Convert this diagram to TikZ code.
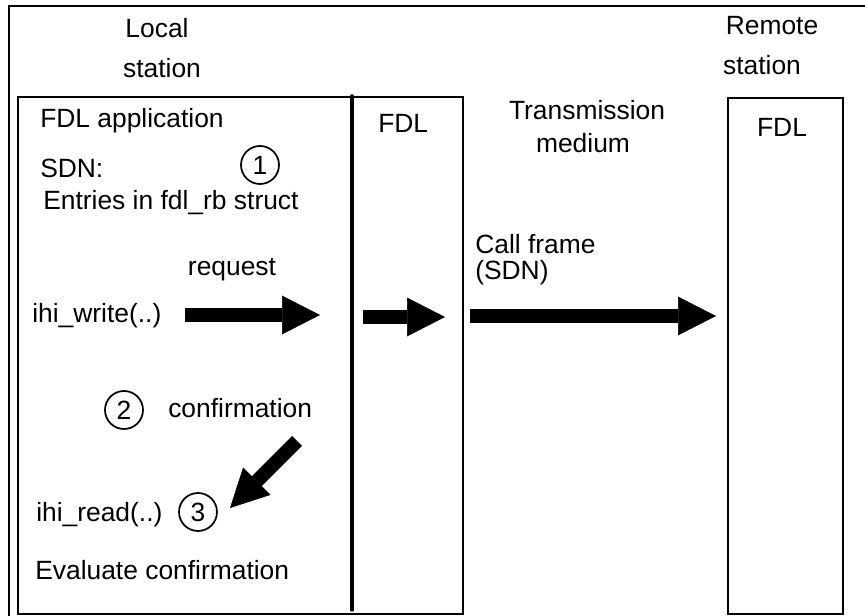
\documentclass[tikz,border=0pt]{standalone}
\usepackage{fontspec}
\setmainfont{Liberation Sans}
\usetikzlibrary{arrows.meta}
\tikzset{every node/.style={font=\fontsize{19.8}{24}\selectfont, inner sep=0pt},
  box/.style={draw, line width=1.5pt},
  num/.style={circle, draw, line width=1.3pt, minimum size=28.5pt},
  big_arrow/.style={line width=10.5pt, -{Triangle[length=28.5pt, width=29pt, line width=0.4pt]}}}

\begin{document}
\begin{tikzpicture}[x=0.75pt, y=-0.75pt]
            \useasboundingbox (0,0) rectangle (865,616);
            \draw[line width=1.5pt] (9,620) -- (9,6) -- (870,6);
            \node[box, minimum width=333.75pt, minimum height=387.75pt] (local_station) at (240.5,355.5) {};
            \node[box, minimum width=86.25pt, minimum height=387pt] (remote_station) at (785.5,356) {};
            \draw[line width=2.6pt, line cap=round] (352,96) coordinate (split_top) -- (352,610) coordinate (split_bottom);
            \node[anchor=base] (local_1) at (157,38) {Local};
            \node[anchor=base] (local_2) at (162,78) {station};
            \node[anchor=base] (remote_1) at (772,35) {Remote};
            \node[anchor=base] (remote_2) at (762,75) {station};
            \node[anchor=base west] (fdl_application) at (40,128) {FDL application};
            \node[anchor=base west] (fdl_local) at (378,133) {FDL};
            \node[anchor=base] (fdl_remote) at (782,137) {FDL};
            \node[anchor=base] (medium_1) at (587,120) {Transmission};
            \node[anchor=base] (medium_2) at (583,153) {medium};
            \node[anchor=base west] (sdn) at (40,178) {SDN:};
            \node[anchor=base west] (entries) at (43,210) {Entries in fdl\_rb struct};
            \node[anchor=base] (request) at (232,276) {request};
            \node[anchor=base west] (ihi_write) at (32,323) {ihi\_write(..)};
            \node[anchor=base west] (call_frame_1) at (475,254) {Call frame};
            \node[anchor=base west] (call_frame_2) at (475,280) {(SDN)};
            \node[anchor=base west] (confirmation) at (168,418) {confirmation};
            \node[anchor=base west] (ihi_read) at (36,522) {ihi\_read(..)};
            \node[anchor=base west] (evaluate) at (35,580) {Evaluate confirmation};
            \node[num] (step_1) at (260,165) {1};
            \node[num] (step_2) at (124,410) {2};
            \node[num] (step_3) at (198,512) {3};
            \coordinate (request_from) at (185,315);
            \coordinate (request_to) at (320,315);
            \coordinate (fdl_from) at (363,317);
            \coordinate (fdl_to) at (445,317);
            \coordinate (frame_from) at (470,316);
            \coordinate (frame_to) at (716,316);
            \coordinate (confirm_from) at (297,441);
            \coordinate (confirm_to) at (230,508);
            \draw[big_arrow] (request_from) -- (request_to);
            \draw[big_arrow] (fdl_from) -- (fdl_to);
            \draw[big_arrow] (frame_from) -- (frame_to);
            \draw[big_arrow] (confirm_from) -- (confirm_to);
      \end{tikzpicture}
\end{document}
